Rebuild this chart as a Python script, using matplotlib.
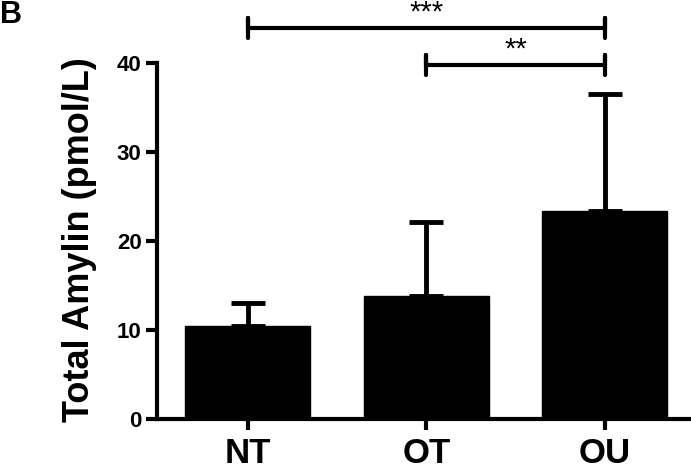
import matplotlib
matplotlib.use('Agg')
import matplotlib.pyplot as plt

plt.rcParams['font.family'] = ['Liberation Sans', 'DejaVu Sans']

# values
groups = ['NT', 'OT', 'OU']
means = [10.45, 13.9, 23.4]
sd_upper = [2.6, 8.3, 13.1]

# significance brackets: (left group, right group, bracket height, label)
brackets = [(0, 2, 43.95, '***'), (1, 2, 39.8, '**')]

fig = plt.figure(figsize=(6.91, 4.66), dpi=100)
ax = fig.add_axes([0.227, 0.1, 0.772, 0.9])

x = range(len(groups))
ax.bar(x, means, width=0.7, color='black', edgecolor='black', zorder=2)
ax.errorbar(x, means, yerr=[[0] * len(sd_upper), sd_upper], fmt='none',
            ecolor='black', elinewidth=3.5, capsize=12, capthick=3.5, zorder=1)

ax.set_xlim(-0.51, 2.48)
ax.set_ylim(0, 47.1)
ax.set_yticks([0, 10, 20, 30, 40])
ax.set_xticks(list(x))
ax.set_xticklabels(groups, fontsize=25, fontweight='bold')
for lab in ax.get_yticklabels():
    lab.set_fontsize(16)
    lab.set_fontweight('bold')

ax.spines['top'].set_visible(False)
ax.spines['right'].set_visible(False)
ax.spines['left'].set_bounds(0, 40)
ax.spines['left'].set_linewidth(3)
ax.spines['bottom'].set_linewidth(3)
ax.tick_params(axis='y', length=8, width=3, pad=3)
ax.tick_params(axis='x', length=8, width=3, pad=5)

ax.set_ylabel('Total Amylin (pmol/L)', fontsize=26, fontweight='bold')
ax.yaxis.set_label_coords(-0.112, 0.428)

for a, b, h, lab in brackets:
    ax.plot([a, a, a, b, b, b], [h - 1.1, h + 1.1, h, h, h + 1.1, h - 1.1],
            color='black', lw=3, solid_capstyle='round', clip_on=False)
    ax.text((a + b) / 2, h + 0.8, lab, ha='center', va='baseline', fontsize=21,
            clip_on=False)

fig.text(0.0, 1.0, 'B', fontsize=22, fontweight='bold', ha='left', va='top')

fig.savefig('out.png', dpi=100)
